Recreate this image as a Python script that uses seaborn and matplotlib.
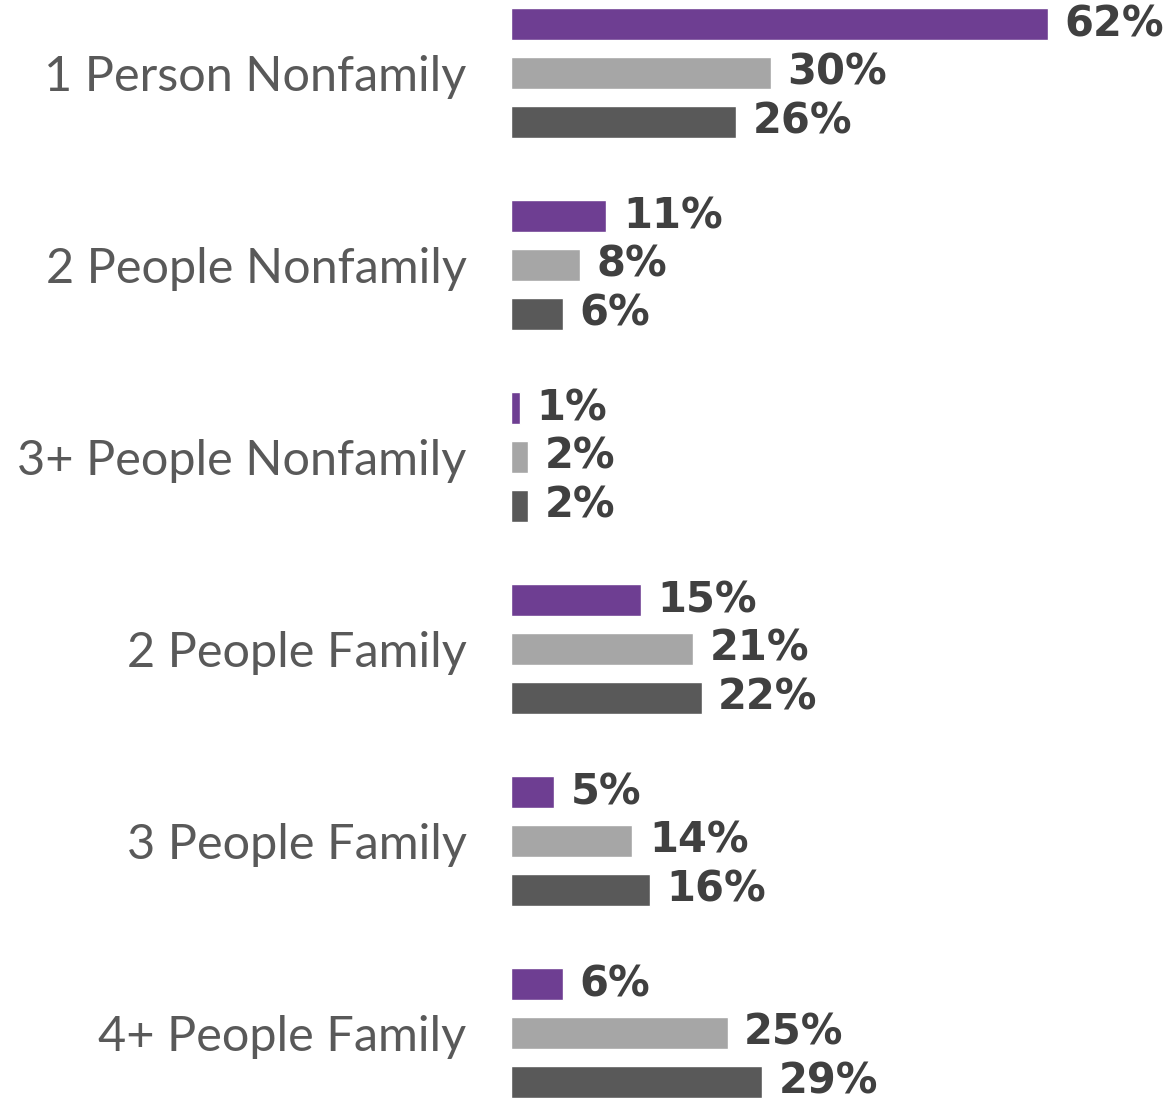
import pandas as pd
import numpy as np
import matplotlib.pyplot as plt
import seaborn as sns

# household type shares, three series per category
categories = ['1 Person Nonfamily', '2 People Nonfamily', '3+ People Nonfamily',
              '2 People Family', '3 People Family', '4+ People Family']
series = ['A', 'B', 'C']
vals_a = [62, 11, 1, 15, 5, 6]
vals_b = [30, 8, 2, 21, 14, 25]
vals_c = [26, 6, 2, 22, 16, 29]
colors = ['#7030A0', '#A6A6A6', '#595959']

df = pd.DataFrame({
    'category': categories * 3,
    'series': np.repeat(series, len(categories)),
    'value': vals_a + vals_b + vals_c,
})

sns.set_style('white')
plt.rcParams['font.family'] = ['Lato', 'DejaVu Sans']

fig = plt.figure(figsize=(11.71, 11), dpi=100)
ax = fig.add_axes([511 / 1171, 0, 1 - 511 / 1171, 1])

sns.barplot(data=df, y='category', x='value', hue='series', palette=colors,
            orient='h', width=0.765, gap=0.33, legend=False, ax=ax, order=categories)

for cont in ax.containers:
    ax.bar_label(cont, labels=[f'{int(v)}%' for v in cont.datavalues], padding=12,
                 fontsize=30, fontweight='bold', color='#404040',
                 family=['DejaVu Sans'])

ax.set_xlim(0, 76.2)
ax.set_ylim(5.349, -0.38)
ax.set_xlabel('')
ax.set_ylabel('')
ax.set_xticks([])
ax.tick_params(axis='y', length=0, pad=32, labelsize=35, labelcolor='#595959')
for t in ax.get_yticklabels():
    t.set_fontweight('normal')
sns.despine(ax=ax, left=True, bottom=True)

plt.savefig('out.png', dpi=100)
